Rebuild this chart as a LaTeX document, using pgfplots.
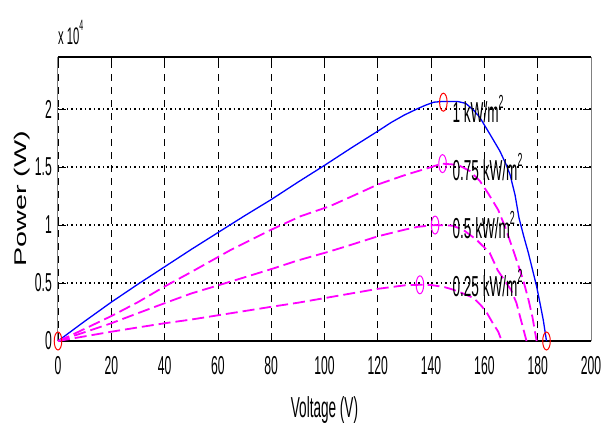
\documentclass[border=0pt]{standalone}
\usepackage{fontspec}
\setmainfont{Liberation Sans}[FakeStretch=0.47]
\newfontfamily\ylabfont{Liberation Sans}[FakeStretch=1.7]
\usepackage{pgfplots}
\pgfplotsset{compat=1.18}

\definecolor{mblue}{RGB}{0,0,255}
\definecolor{mmag}{RGB}{255,0,255}
\definecolor{mred}{RGB}{255,0,0}

\newcommand{\tickfont}{\fontsize{26}{26}\selectfont}
\newcommand{\txtfont}{\fontsize{29}{29}\selectfont}
\newcommand{\sq}{\raisebox{0.5em}{\fontsize{19}{19}\selectfont 2}}

\begin{document}
\begin{tikzpicture}
  \begin{axis}[
    at={(0,0)}, anchor=south west,
    width=533bp, height=284bp, scale only axis,
    xmin=0, xmax=200, ymin=0, ymax=24500,
    xtick={0,20,...,200},
    ytick={0,5000,10000,15000,20000},
    yticklabels={0,0.5,1,1.5,2},
    scaled y ticks=false,
    /pgf/number format/assume math mode=true,
    tick align=inside, major tick length=8bp,
    tick style={black, line width=0.8bp},
    xticklabel style={font=\tickfont, inner sep=0pt, yshift=-15bp},
    yticklabel style={font=\tickfont, inner sep=0pt, xshift=-6bp},
    separate axis lines,
    x axis line style={black, line width=2bp},
    y axis line style={gray, line width=1bp},
    xmajorgrids, ymajorgrids,
    major x grid style={black, line width=0.8bp, dash pattern=on 7bp off 6bp},
    major y grid style={black, line width=1.5bp, dash pattern=on 1.5bp off 3bp},
    xlabel={Voltage (V)},
    xlabel style={font=\fontsize{29}{29}\selectfont, at={(axis description cs:0.5,0)},
      anchor=center, inner sep=0pt, yshift=-69bp},
    ylabel={Power (W)},
    ylabel style={font=\ylabfont\fontsize{17}{17}\selectfont, at={(axis description cs:0,0.5)},
      anchor=center, inner sep=0pt, yshift=36bp},
    clip=false,
  ]
    % 1 kW/m^2
    \addplot[mblue, line width=1.3bp] coordinates {
      (0,0)(5,850)(10,1700)(20,3350)(30,4900)(40,6400)(50,7900)(60,9350)
      (70,10800)(80,12200)(90,13700)(100,15150)(110,16650)(120,18100)
      (125,18850)(130,19500)(135,20050)(138,20350)(141,20600)(144,20660)
      (150,20660)(153,20500)(156,19900)(158.3,19280)(162.1,17830)(165.8,16390)
      (168,15300)(169.6,14370)(171.5,12600)(173,10600)(174.8,9000)(176.5,7600)
      (178,6200)(179.6,4700)(181,3100)(182.1,1800)(183.3,0)
    };
    % 0.75 kW/m^2
    \addplot[mmag, line width=1.8bp, dash pattern=on 12bp off 5bp] coordinates {
      (0,0)(5,500)(10,1050)(20,2150)(30,3350)(40,4700)(50,5950)(65,7880)
      (80,9600)(91,10760)(102,11630)(110,12450)(120,13500)(130,14300)
      (140,15000)(144,15300)(150,15200)(154.6,14660)(158.3,13800)(161.5,12700)
      (165.2,11300)(168,9700)(171,7700)(174.5,5300)(176.5,3600)(178,2100)(179.6,0)
    };
    % 0.5 kW/m^2
    \addplot[mmag, line width=1.8bp, dash pattern=on 12bp off 5bp] coordinates {
      (0,0)(5,380)(10,760)(20,1530)(30,2400)(40,3260)(50,4100)(65,5140)
      (80,6200)(90,6950)(102,7730)(110,8300)(120,9030)(130,9600)(135,9850)
      (141.5,10000)(148,9950)(152,9600)(157,8740)(162,7600)(165,6100)
      (170,4400)(172,3300)(175,700)(175.8,0)
    };
    % 0.25 kW/m^2
    \addplot[mmag, line width=1.8bp, dash pattern=on 12bp off 5bp] coordinates {
      (0,0)(5,200)(10,400)(20,800)(30,1170)(40,1530)(50,1850)(65,2400)
      (80,2950)(90,3300)(102,3780)(110,4100)(120,4500)(130,4800)(135.8,4850)
      (140,4830)(145,4650)(148,4450)(152,4100)(156,3700)(159,3000)(161,2400)
      (163,1600)(165.2,800)(166.5,0)
    };
    % maximum power points and end points
    \addplot[only marks, mred, mark=o, mark size=9bp, mark options={xscale=0.42, line width=1bp}]
      coordinates {(144.6,20600)(0,0)(183.3,0)};
    \addplot[only marks, mmag, mark=o, mark size=9bp, mark options={xscale=0.42, line width=1bp}]
      coordinates {(144.3,15300)(141.5,10000)(135.8,4850)};

    \node[anchor=west, inner sep=0pt, font=\txtfont] at (axis cs:148,20000) {1 kW/m\sq};
    \node[anchor=west, inner sep=0pt, font=\txtfont] at (axis cs:148,15000) {0.75 kW/m\sq};
    \node[anchor=west, inner sep=0pt, font=\txtfont] at (axis cs:148,10000) {0.5 kW/m\sq};
    \node[anchor=west, inner sep=0pt, font=\txtfont] at (axis cs:148,5000) {0.25 kW/m\sq};

    \node[anchor=south west, inner sep=0pt, font=\fontsize{24}{24}\selectfont]
      at (rel axis cs:0,1) [yshift=12bp] {x 10\raisebox{0.6em}{\fontsize{15}{15}\selectfont 4}};
  \end{axis}
  \pgfresetboundingbox
  \path[use as bounding box] (-58bp,-85bp) rectangle (556bp,341bp);
\end{tikzpicture}
\end{document}
